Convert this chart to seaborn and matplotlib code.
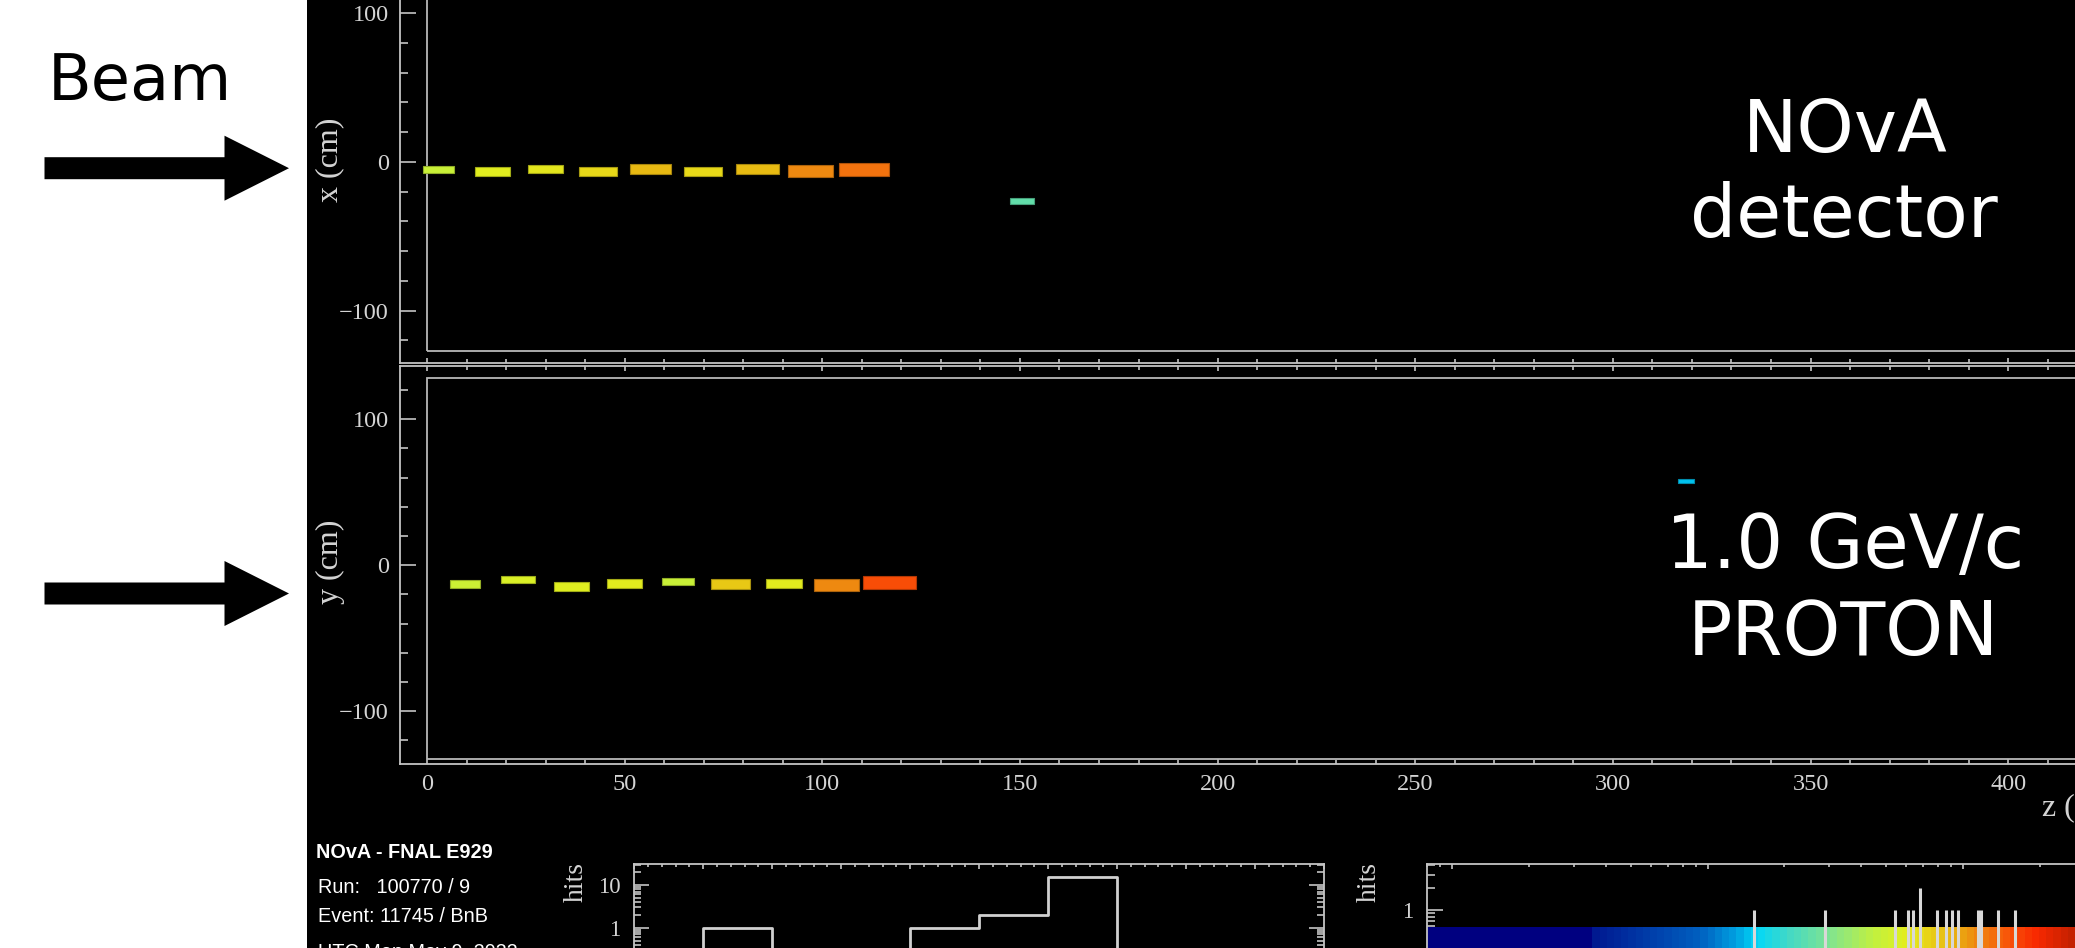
import numpy as np
import matplotlib
matplotlib.use("Agg")
import matplotlib.pyplot as plt
import seaborn as sns
from matplotlib.patches import Rectangle, Polygon
from matplotlib.colors import LinearSegmentedColormap, LogNorm
from matplotlib.ticker import (FixedLocator, FixedFormatter, NullFormatter,
                               MultipleLocator, LogLocator)

# ---------------- data read from the event display ----------------
# X view (top panel): hit centre z, centre x (cm), cell extents, charge
xview_z = [2.9, 16.5, 29.9, 43.2, 56.6, 69.9, 83.5, 97.0, 110.5, 150.5]
xview_x = [-4.85, -6.3, -4.8, -6.3, -4.8, -6.3, -4.8, -6.3, -4.8, -26.1]
xview_dz = [7.8, 8.8, 8.9, 9.6, 10.3, 9.6, 10.9, 11.5, 12.6, 6.1]
xview_dx = [4.7, 5.9, 5.2, 5.9, 7.0, 5.9, 7.0, 8.1, 8.7, 3.8]
xview_q = [480, 600, 630, 710, 870, 700, 860, 1120, 1270, 250]

# Y view (bottom panel)
yview_z = [9.6, 23.0, 36.5, 49.9, 63.5, 76.8, 90.3, 103.7, 117.0, 318.5]
yview_y = [-13.0, -9.8, -14.5, -12.5, -11.0, -13.0, -12.5, -13.4, -11.9, 57.5]
yview_dz = [7.8, 8.5, 8.8, 8.9, 7.9, 10.0, 9.3, 11.4, 13.6, 4.2]
yview_dy = [5.0, 5.0, 6.1, 6.1, 5.0, 7.1, 6.1, 8.0, 9.2, 2.7]
yview_q = [490, 560, 590, 610, 480, 790, 610, 1120, 1560, 145]

# timing histogram
time_bin_edges = [0, 1, 2, 3, 4, 5, 6, 7, 8, 9, 10]
hits_per_time_bin = [0, 1, 0, 0, 1, 2, 15, 0, 0, 0]

# charge histogram
charge_peaks = [152, 289, 542, 609, 638, 679, 793, 856, 905, 955, 1142, 1178, 1376, 1593]
charge_peak_hits = [1, 1, 1, 1, 1, 2, 1, 1, 1, 1, 1, 1, 1, 1]

title_line = "NOvA - FNAL E929"
info_lines = ["Run:   100770 / 9", "Event: 11745 / BnB", "UTC Mon May 9, 2022"]

# ---------------- style ----------------
W, H = 2075, 948
LINE = "#c4c4c4"
TXT = "#d4d4d4"

sns.set_style("dark", {"axes.facecolor": "black", "figure.facecolor": "white",
                       "axes.edgecolor": LINE, "axes.grid": False,
                       "xtick.color": LINE, "ytick.color": LINE,
                       "axes.labelcolor": TXT, "text.color": TXT})
plt.rcParams["font.family"] = ["Liberation Serif", "DejaVu Serif"]
plt.rcParams["axes.linewidth"] = 1.3

# colour palette (ROOT-like rainbow used by the display)
pal_logq = [0.901, 1.552, 1.558, 1.975, 2.112, 2.194, 2.311, 2.479, 2.648,
            2.769, 2.851, 2.969, 3.070, 3.188, 3.290, 3.438]
pal_hex = ["#000080", "#000080", "#001890", "#0060c0", "#00a0e0", "#00d8f8",
           "#40d8c8", "#80e490", "#c0f040", "#e0f020", "#e8d818", "#e8b010",
           "#f08010", "#f85008", "#f82800", "#c02000"]
lo, hi = pal_logq[0], pal_logq[-1]
cmap = LinearSegmentedColormap.from_list(
    "nova", [((p - lo) / (hi - lo), c) for p, c in zip(pal_logq, pal_hex)], N=512)
norm = LogNorm(vmin=10 ** lo, vmax=10 ** hi)

fig = plt.figure(figsize=(W / 100, H / 100), dpi=100)
fig.add_artist(Rectangle((307 / W, 0), 1 - 307 / W, 1, transform=fig.transFigure,
                         facecolor="black", edgecolor="none", zorder=-100))


def fy(py):
    return 1 - py / H


ax_x = fig.add_axes([400 / W, fy(362.7), 1675 / W, 362.7 / H])
ax_y = fig.add_axes([400 / W, fy(764.3), 1675 / W, (764.3 - 366) / H])
ax_t = fig.add_axes([634.3 / W, 0, (1324 - 634.3) / W, (948 - 864.3) / H])
ax_q = fig.add_axes([1426.7 / W, 0, (2075 - 1426.7) / W, (948 - 864.3) / H])

zlim = (-6.83, 416.9)


def draw_hits(ax, z, v, dz, dv, q):
    for zi, vi, wi, hi_, qi in zip(z, v, dz, dv, q):
        fc = cmap(norm(qi))
        ec = tuple(np.array(fc[:3]) * 0.72)
        ax.add_patch(Rectangle((zi - wi / 2, vi - hi_ / 2), wi, hi_, facecolor=fc,
                               edgecolor=ec, linewidth=0.8, zorder=3))


for ax in (ax_x, ax_y):
    ax.set_facecolor("black")
    ax.set_xlim(*zlim)
    ax.spines["right"].set_visible(False)
    ax.xaxis.set_major_locator(MultipleLocator(50))
    ax.xaxis.set_minor_locator(MultipleLocator(10))
    ax.yaxis.set_major_locator(MultipleLocator(100))
    ax.yaxis.set_minor_locator(MultipleLocator(20))
    ax.tick_params(axis="y", which="major", direction="in", length=11.5, width=1.2,
                   labelsize=17.5, pad=8, labelcolor=TXT, left=True, right=False)
    ax.tick_params(axis="y", which="minor", direction="in", length=5.8, width=1.2,
                   left=True, right=False)
    ax.tick_params(axis="x", which="major", direction="in", length=3.8, width=1.2,
                   labelsize=17.5, pad=7, labelcolor=TXT)
    ax.tick_params(axis="x", which="minor", direction="in", length=2.6, width=1.2)

# top panel (x view)
ax_x.set_ylim(-135.0, 108.9)
ax_x.spines["top"].set_visible(False)
ax_x.tick_params(axis="x", which="both", bottom=True, top=False, labelbottom=False)
ax_x.add_patch(Rectangle((0, -127), 450, 260, fill=False, edgecolor="#b8b8b8",
                         linewidth=1.3, zorder=2))
draw_hits(ax_x, xview_z, xview_x, xview_dz, xview_dx, xview_q)
ax_x.set_ylabel("x (cm)", fontsize=23, va="center")
ax_x.yaxis.set_label_coords(-0.0418, 0.559)

# bottom panel (y view)
ax_y.set_ylim(-136.4, 136.4)
ax_y.tick_params(axis="x", which="both", bottom=True, top=True, labelbottom=True)
ax_y.add_patch(Rectangle((0, -132.5), 450, 260.5, fill=False, edgecolor="#b8b8b8",
                         linewidth=1.3, zorder=2))
draw_hits(ax_y, yview_z, yview_y, yview_dz, yview_dy, yview_q)
ax_y.set_ylabel("y (cm)", fontsize=23, va="center")
ax_y.yaxis.set_label_coords(-0.0418, 0.508)
ax_y.set_xlabel("z (cm)", fontsize=23, ha="left", va="center")
ax_y.xaxis.set_label_coords(0.9803, -0.1097)

# timing histogram (seaborn)
centers = [(a + b) / 2 for a, b in zip(time_bin_edges[:-1], time_bin_edges[1:])]
sns.histplot(x=centers, weights=hits_per_time_bin, bins=time_bin_edges,
             element="step", fill=False, color="#d0d0d0", linewidth=2.0, ax=ax_t)
ax_t.set_facecolor("black")
ax_t.set_yscale("log")
ax_t.set_xlim(0, 10)
ax_t.set_ylim(0.335, 30.5)
ax_t.spines["bottom"].set_visible(False)
ax_t.yaxis.set_major_locator(FixedLocator([1, 10]))
ax_t.yaxis.set_major_formatter(FixedFormatter(["1", "10"]))
ax_t.yaxis.set_minor_locator(LogLocator(base=10, subs=np.arange(2, 10)))
ax_t.yaxis.set_minor_formatter(NullFormatter())
ax_t.xaxis.set_major_locator(MultipleLocator(1))
ax_t.xaxis.set_minor_locator(MultipleLocator(0.2))
ax_t.tick_params(axis="y", which="major", direction="in", length=10.8, width=1.2,
                 left=True, right=True, labelsize=16.5, pad=10, labelcolor=TXT)
ax_t.tick_params(axis="y", which="minor", direction="in", length=5.0, width=1.2,
                 left=True, right=True)
ax_t.tick_params(axis="x", which="major", direction="in", length=3.6, width=1.2,
                 top=True, bottom=False, labelbottom=False)
ax_t.tick_params(axis="x", which="minor", direction="in", length=1.8, width=1.2,
                 top=True, bottom=False)
ax_t.set_xlabel("")
ax_t.set_ylabel("hits", fontsize=20, va="center")
ax_t.yaxis.set_label_coords(-0.0845, 0.789)

# charge histogram with palette
ax_q.set_facecolor("black")
ax_q.set_xscale("log")
ax_q.set_yscale("log")
ax_q.set_xlim(10 ** lo, 10 ** hi)
ax_q.set_ylim(0.3065, 4.146)
xe = np.logspace(lo, hi, 91)
xc = np.sqrt(xe[:-1] * xe[1:])
ax_q.pcolormesh(xe, [0.2, 0.584], xc[np.newaxis, :], cmap=cmap, norm=norm,
                shading="flat", zorder=2)
ax_q.vlines(charge_peaks, 0.01, charge_peak_hits, color="#d8d8d8", linewidth=2.2,
            zorder=3)
ax_q.spines["bottom"].set_visible(False)
ax_q.spines["right"].set_visible(False)
ax_q.yaxis.set_major_locator(FixedLocator([1]))
ax_q.yaxis.set_major_formatter(FixedFormatter(["1"]))
ax_q.yaxis.set_minor_locator(LogLocator(base=10, subs=np.arange(2, 10)))
ax_q.yaxis.set_minor_formatter(NullFormatter())
ax_q.xaxis.set_minor_formatter(NullFormatter())
ax_q.tick_params(axis="y", which="major", direction="in", length=11.5, width=1.2,
                 left=True, right=False, labelsize=16.5, pad=10, labelcolor=TXT)
ax_q.tick_params(axis="y", which="minor", direction="in", length=5.5, width=1.2,
                 left=True, right=False)
ax_q.tick_params(axis="x", which="major", direction="in", length=3.6, width=1.2,
                 top=True, bottom=False, labelbottom=False, labeltop=False)
ax_q.tick_params(axis="x", which="minor", direction="in", length=1.8, width=1.2,
                 top=True, bottom=False)
ax_q.set_ylabel("hits", fontsize=20, va="center")
ax_q.yaxis.set_label_coords(-0.089, 0.789)

# ---------------- overlay annotations ----------------
ov = fig.add_axes([0, 0, 1, 1], zorder=10)
ov.set_xlim(0, W)
ov.set_ylim(H, 0)
ov.axis("off")
ov.patch.set_alpha(0)


def arrow(yc):
    pts = [(44.5, yc - 11), (224.5, yc - 11), (224.5, yc - 32.5), (289, yc),
           (224.5, yc + 32.5), (224.5, yc + 11), (44.5, yc + 11)]
    ov.add_patch(Polygon(pts, closed=True, facecolor="black", edgecolor="none"))


arrow(168.2)
arrow(593.5)
big = dict(family=["DejaVu Sans"], ha="center", va="baseline")
ov.text(139.5, 100, "Beam", fontsize=46, color="black", **big)
ov.text(1845, 151.7, "NOvA", fontsize=52.5, color="white", **big)
ov.text(1844, 236.7, "detector", fontsize=52.5, color="white", **big)
ov.text(1845, 568, "1.0 GeV/c", fontsize=53, color="white", **big)
ov.text(1843, 655, "PROTON", fontsize=53, color="white", **big)

sans = ["Liberation Sans", "DejaVu Sans"]
ov.text(316, 857.5, title_line, fontsize=14.3, fontweight="bold", color="white",
        family=sans, ha="left", va="baseline")
for i, line in enumerate(info_lines):
    ov.text(318, 893.3 + 28.5 * i + (8 if i == 2 else 0), line, fontsize=14.3,
            color="white", family=sans, ha="left", va="baseline")

fig.savefig("out.png", dpi=100, facecolor="white")
